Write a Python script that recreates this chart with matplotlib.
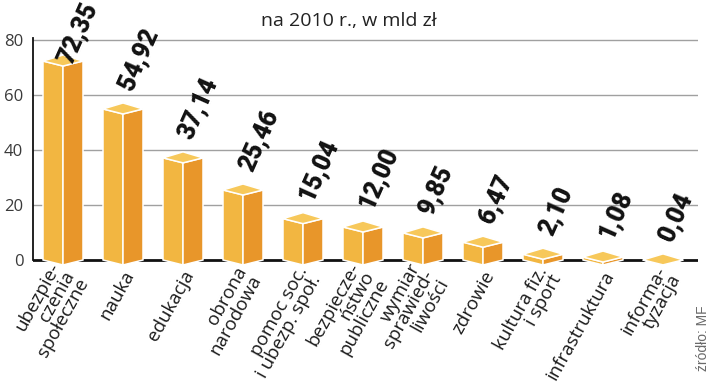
import matplotlib
matplotlib.use("Agg")
import matplotlib.pyplot as plt
from matplotlib.patches import Polygon

categories = [
    "ubezpie-\nczenia\nspołeczne",
    "nauka",
    "edukacja",
    "obrona\nnarodowa",
    "pomoc soc.\ni ubezp. społ.",
    "bezpiecze-\nństwo\npubliczne",
    "wymiar\nsprawied-\nliwości",
    "zdrowie",
    "kultura fiz.\ni sport",
    "infrastruktura",
    "informa-\ntyzacja",
]
values = [72.35, 54.92, 37.14, 25.46, 15.04, 12.00, 9.85, 6.47, 2.10, 1.08, 0.04]
yticks = [0, 20, 40, 60, 80]
title = "na 2010 r., w mld zł"
source = "źródło: MF"

W, H = 720, 388
fig = plt.figure(figsize=(W / 100, H / 100), dpi=100)
fig.patch.set_facecolor("white")

# pixel geometry
x0_px, x1_px = 33, 698
y0_px = 260.0          # value 0
px_per_unit = 2.75
ylo, yhi = -3.0, 80.7
top_px = y0_px - yhi * px_per_unit
bot_px = y0_px - ylo * px_per_unit
ax = fig.add_axes([x0_px / W, 1 - bot_px / H, (x1_px - x0_px) / W, (bot_px - top_px) / H])
xlo = -0.5
xhi = xlo + (x1_px - x0_px) / 60.0
ax.set_xlim(xlo, xhi)
ax.set_ylim(ylo, yhi)

for s in ["top", "right", "bottom"]:
    ax.spines[s].set_visible(False)
ax.spines["left"].set_bounds(0, yhi)
ax.spines["left"].set_linewidth(1.3)
ax.spines["left"].set_color("#111111")

ax.set_yticks(yticks)
ax.set_yticklabels([str(t) for t in yticks], fontsize=12, color="#3a3a3a", family="Open Sans")
ax.tick_params(axis="y", length=0, pad=7)
ax.set_xticks([])

for t in yticks[1:]:
    ax.axhline(t, color="#a0a0a0", lw=1.0, zorder=1)
ax.axhline(0, color="#111111", lw=2.0, zorder=1)

# bar geometry in data units
hw = 20 / 60.0
back = 6 / px_per_unit
front = 5 / px_per_unit
c_left = "#F2B641"
c_right = "#E8962A"
c_top = "#F7C85A"

for i, v in enumerate(values):
    c = i
    left = Polygon([(c - hw, 0), (c - hw, v), (c, v - front), (c, -front)], closed=True,
                   facecolor=c_left, edgecolor="white", lw=1.1, zorder=3, clip_on=False)
    right = Polygon([(c, -front), (c, v - front), (c + hw, v), (c + hw, 0)], closed=True,
                    facecolor=c_right, edgecolor="white", lw=1.1, zorder=3, clip_on=False)
    top = Polygon([(c - hw, v), (c, v + back), (c + hw, v), (c, v - front)], closed=True,
                  facecolor=c_top, edgecolor="white", lw=1.1, zorder=4, clip_on=False)
    for p in (left, right, top):
        ax.add_patch(p)
    ly = min(v + 17 / px_per_unit, 70.5)
    ax.text(c + 9 / 60.0, ly, f"{v:.2f}".replace(".", ","), rotation=66, rotation_mode="anchor",
            ha="left", va="baseline", fontsize=18, fontweight="black", family="Roboto",
            color="#111111", zorder=6, clip_on=False)
    ax.text(c + 7 / 60.0, (y0_px - 272) / px_per_unit, categories[i], rotation=61,
            rotation_mode="anchor", ha="right", va="center", multialignment="right",
            fontsize=13.5, family="Open Sans", color="#1a1a1a", linespacing=0.88, clip_on=False)

fig.text(349 / W, 1 - 26 / H, title, ha="center", va="baseline", fontsize=14,
         family="Open Sans", color="#222222")
fig.text(703 / W, 1 - 338 / H, source, rotation=90, ha="center", va="center",
         fontsize=10, family="Liberation Sans", color="#6a6a6a")

fig.savefig("out.png", dpi=100, facecolor="white")
